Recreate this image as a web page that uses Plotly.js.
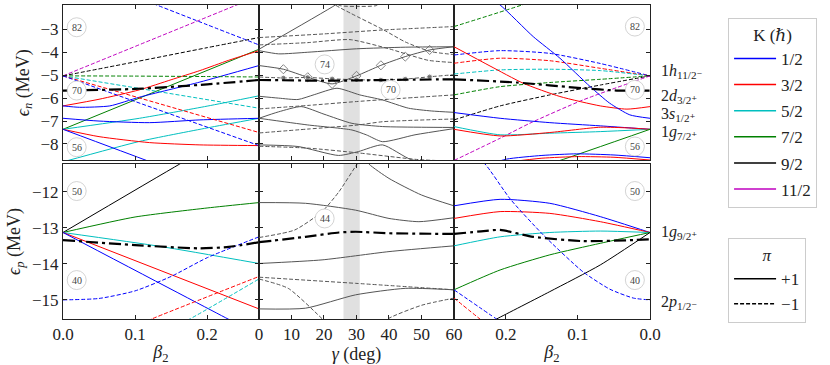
<!DOCTYPE html>
<html lang="en">
<head>
<meta charset="UTF-8">
<title>Nilsson diagram</title>
<script src="https://cdn.plot.ly/plotly-3.0.1.min.js"></script>
<style>
  body { margin: 0; background: #fff; }
  #plot { width: 830px; height: 365px; }
</style>
</head>
<body>
<div id="plot"></div>
<script>
// ---- neutrons, gamma = 0 (prolate side), points are [beta2, e_n] ----
const nP_11m = [[0, -5.03], [0.241, -1.94], [0.273, -1.53]];
const nP_9m = [[0, -5.03], [0.1, -4.42], [0.2, -3.8], [0.272, -3.36]];
const nP_1m_hi = [[0.11, -1.7], [0.13, -1.94], [0.2, -2.8], [0.272, -3.68]];
const nP_7p = [[0, -7.36], [0.272, -3.87]];
const nP_3p_d = [[0, -6.34], [0.05, -6.05], [0.106, -5.64], [0.15, -5.2], [0.19, -4.8], [0.23, -4.35], [0.272, -3.93]];
const nP_1p_d = [[0, -6.34], [0.023, -6.4], [0.065, -6.34], [0.106, -5.96], [0.19, -5.3], [0.272, -4.58]];
const nP_7m = [[0, -5.03], [0.1, -5.04], [0.2, -5.06], [0.272, -5.08]];
const nP_5m = [[0, -5.03], [0.272, -6.44]];
const nP_5p_g = [[0, -7.36], [0.106, -6.88], [0.2, -6.35], [0.272, -5.9]];
const nP_5p_lo = [[0, -8.78], [0.106, -7.89], [0.2, -7.3], [0.272, -6.88]];
const nP_1p_s = [[0, -6.88], [0.05, -7.0], [0.12, -7.07], [0.19, -6.95], [0.272, -6.88]];
const nP_3m = [[0, -5.03], [0.272, -7.5]];
const nP_3p_g = [[0, -7.36], [0.05, -7.68], [0.12, -7.94], [0.19, -8.04], [0.272, -8.07]];
const nP_1m = [[0, -5.03], [0.272, -8.07]];
const nP_1p_g = [[0, -7.36], [0.116, -8.72], [0.14, -9.0]];
const nP_fermi = [[0, -5.67], [0.1, -5.6], [0.2, -5.4], [0.272, -5.21]];

// ---- neutrons, triaxial path, points are [gamma, e_n] ----
const nG_a = [[0, -3.87], [23.5, -1.94], [28, -1.5]];
const nG_b = [[0, -3.93], [6, -4.07], [15, -4.0], [30, -3.85], [45, -3.78], [60, -3.76]];
const nG_diam = [[0, -4.58], [7.5, -4.74], [15, -5.09], [22.5, -5.38], [30, -5.03], [37.5, -4.57], [45, -4.19], [52.5, -3.9], [60, -3.76]];
const nG_dots = [[0, -5.08], [7.5, -5.12], [15, -5.1], [22.5, -5.16], [30, -5.2], [37.5, -5.21], [45, -5.17], [52.5, -5.07], [60, -4.98]];
const nG_c = [[0, -5.92], [6, -6.0], [12, -6.06], [17, -5.85], [24, -5.57], [31, -5.86], [38, -6.08], [46, -6.44], [53, -6.56], [60, -6.62]];
const nG_d = [[0, -6.47], [15, -6.32], [30, -6.15], [45, -6.0], [60, -5.86]];
const nG_e = [[0, -6.88], [6, -6.6], [13, -6.37], [20, -6.7], [28.6, -7.1], [38, -7.24], [50, -7.27], [60, -7.28]];
const nG_f = [[0, -6.88], [15, -7.17], [28.6, -7.39], [33, -7.6], [38, -7.9], [48, -7.6], [60, -7.33]];
const nG_g = [[0, -7.52], [15, -7.35], [30.6, -7.17], [38, -7.03], [60, -6.91]];
const nG_h = [[0, -8.04], [12, -8.11], [24.5, -8.5], [30.6, -8.33], [38, -8.04], [47, -8.69], [60, -8.8]];
const nG_i = [[0, -8.1], [15, -8.18], [30.6, -8.39], [49, -8.68], [60, -8.75]];
const nG_j = [[0, -3.36], [20, -3.2], [38, -3.03], [60, -2.88]];
const nG_k = [[0, -3.68], [15, -3.58], [28, -3.45], [40, -3.85], [52, -4.35], [60, -4.45]];
const nG_l = [[21, -1.6], [23.5, -1.94], [28.2, -2.3], [38.4, -3.03], [45, -3.55], [52.8, -3.97], [60, -4.1]];
const nG_m = [[21, -1.7], [25, -1.97], [30, -2.0], [36, -1.97], [40, -1.7]];
const nG_fermi = [[0, -5.21], [20, -5.24], [30, -5.23], [45, -5.2], [60, -5.18]];

// ---- neutrons, gamma = 60 (oblate side), points are [beta2, e_n] ----
const nO_7m_hi = [[0.272, -2.88], [0.178, -1.94], [0.15, -1.6]];
const nO_1m = [[0.272, -4.12], [0.208, -3.93], [0.139, -4.05], [0.069, -4.49], [0, -5.03]];
const nO_3m = [[0.272, -4.48], [0.208, -4.26], [0.139, -4.37], [0.069, -4.7], [0, -5.03]];
const nO_5m = [[0.272, -4.95], [0.208, -4.77], [0.139, -4.74], [0.069, -4.8], [0, -5.03]];
const nO_7m = [[0.272, -5.86], [0.208, -5.5], [0.139, -5.32], [0.069, -5.18], [0, -5.03]];
const nO_9m = [[0.272, -6.95], [0.208, -6.34], [0.139, -5.86], [0.069, -5.43], [0, -5.03]];
const nO_11m = [[0.272, -8.72], [0.208, -7.75], [0.167, -7.1], [0.093, -6.08], [0, -5.03]];
const nO_3p_d = [[0.272, -3.76], [0.222, -4.6], [0.176, -5.35], [0.125, -5.93], [0.069, -6.34], [0.032, -6.48], [0, -6.37]];
const nO_1p_hi = [[0.23, -1.5], [0.208, -1.94], [0.162, -3.32], [0.125, -4.26], [0.083, -5.5], [0.056, -6.22], [0.028, -6.73], [0, -6.88]];
const nO_1p = [[0.272, -6.63], [0.208, -6.88], [0.139, -7.07], [0.069, -7.21], [0, -7.36]];
const nO_5p = [[0.272, -7.24], [0.208, -7.6], [0.139, -7.53], [0.069, -7.46], [0, -7.36]];
const nO_3p = [[0.272, -7.36], [0.208, -7.65], [0.139, -7.5], [0.069, -7.27], [0.03, -7.3], [0, -7.36]];
const nO_7p = [[0.15, -8.96], [0.125, -8.72], [0, -7.36]];
const nO_1p_lo = [[0.23, -8.95], [0.199, -8.66], [0.15, -8.5], [0.102, -8.43], [0.05, -8.48], [0, -8.6]];
const nO_3p_lo = [[0.2, -8.8], [0.15, -8.62], [0.1, -8.55], [0.05, -8.58], [0, -8.7]];
const nO_fermi = [[0.272, -5.18], [0.185, -5.32], [0.093, -5.57], [0.046, -5.67], [0, -5.67]];

// ---- protons, gamma = 0, points are [beta2, e_p] ----
const pP_9p = [[0, -13.13], [0.162, -11.23], [0.2, -10.8]];
const pP_7p = [[0, -13.13], [0.1, -12.7], [0.2, -12.45], [0.272, -12.3]];
const pP_5p = [[0, -13.13], [0.136, -13.52], [0.272, -13.99]];
const pP_3p = [[0, -13.13], [0.272, -15.25]];
const pP_1p = [[0, -13.13], [0.229, -15.53], [0.26, -15.85]];
const pP_1m = [[0, -15.0], [0.05, -14.96], [0.1, -14.75], [0.15, -14.35], [0.2, -13.83], [0.272, -13.25]];
const pP_3m = [[0.11, -15.65], [0.123, -15.53], [0.272, -14.35]];
const pP_5m = [[0.165, -15.63], [0.176, -15.53], [0.272, -14.42]];
const pP_fermi = [[0, -13.34], [0.1, -13.48], [0.19, -13.57], [0.23, -13.53], [0.272, -13.4]];

// ---- protons, triaxial path, points are [gamma, e_p] ----
const pG_a = [[0, -12.3], [14.3, -12.32], [29.7, -12.51], [40, -12.74], [49.2, -12.83], [60, -12.72]];
const pG_b = [[0, -13.27], [11, -13.06], [19.4, -12.55], [24.6, -12.0], [30.2, -11.23], [33, -10.9]];
const pG_c = [[31, -10.9], [33.8, -11.23], [40, -11.63], [50, -12.09], [60, -12.39]];
const pG_d = [[0, -13.99], [19.4, -13.89], [40, -13.66], [60, -13.5]];
const pG_e = [[0, -14.37], [29.7, -14.54], [60, -14.72]];
const pG_f = [[0, -15.25], [14.3, -15.23], [29.7, -14.86], [45, -14.68], [60, -14.72]];
const pG_g = [[0, -14.42], [9, -14.68], [19.5, -15.53], [22, -15.75]];
const pG_h = [[37, -15.75], [40, -15.51], [50, -15.15], [60, -14.95]];
const pG_fermi = [[0, -13.4], [14.3, -13.25], [24.6, -13.13], [29.7, -13.11], [40, -13.15], [60, -13.17]];

// ---- protons, gamma = 60, points are [beta2, e_p] ----
const pO_1p = [[0.272, -12.39], [0.208, -12.21], [0.139, -12.32], [0.069, -12.69], [0, -13.13]];
const pO_3p = [[0.272, -12.74], [0.208, -12.55], [0.139, -12.6], [0.069, -12.83], [0, -13.13]];
const pO_5p = [[0.272, -13.5], [0.208, -13.25], [0.139, -13.13], [0.069, -13.09], [0, -13.13]];
const pO_7p = [[0.272, -14.72], [0.208, -14.17], [0.139, -13.75], [0.069, -13.43], [0, -13.13]];
const pO_9p = [[0.23, -15.7], [0.213, -15.53], [0.139, -14.77], [0.069, -14.03], [0, -13.13]];
const pO_1m = [[0.245, -11.0], [0.229, -11.23], [0.194, -12.2], [0.148, -13.2], [0.093, -14.22], [0.056, -14.7], [0.023, -14.95], [0, -15.0]];
const pO_1m_b = [[0.272, -14.72], [0.213, -15.53], [0.2, -15.7]];
const pO_3m = [[0.272, -14.95], [0.236, -15.53], [0.225, -15.7]];
const pO_fermi = [[0.272, -13.17], [0.231, -13.09], [0.208, -13.06], [0.162, -13.25], [0.093, -13.37], [0.023, -13.34], [0, -13.32]];

// which curve belongs to which K and parity (first number = subplot)
const axialCurves = [
    [1, nP_11m, '11/2', -1], [1, nP_9m, '9/2', -1], [1, nP_1m_hi, '1/2', -1], [1, nP_7p, '7/2', 1],
    [1, nP_3p_d, '3/2', 1], [1, nP_1p_d, '1/2', 1], [1, nP_7m, '7/2', -1], [1, nP_5m, '5/2', -1],
    [1, nP_5p_g, '5/2', 1], [1, nP_5p_lo, '5/2', 1], [1, nP_1p_s, '1/2', 1], [1, nP_3m, '3/2', -1],
    [1, nP_3p_g, '3/2', 1], [1, nP_1m, '1/2', -1], [1, nP_1p_g, '1/2', 1],
    [3, nO_7m_hi, '7/2', -1], [3, nO_1m, '1/2', -1], [3, nO_3m, '3/2', -1], [3, nO_5m, '5/2', -1],
    [3, nO_7m, '7/2', -1], [3, nO_9m, '9/2', -1], [3, nO_11m, '11/2', -1], [3, nO_3p_d, '3/2', 1],
    [3, nO_1p_hi, '1/2', 1], [3, nO_1p, '1/2', 1], [3, nO_5p, '5/2', 1], [3, nO_3p, '3/2', 1],
    [3, nO_7p, '7/2', 1], [3, nO_1p_lo, '1/2', 1], [3, nO_3p_lo, '3/2', 1],
    [4, pP_9p, '9/2', 1], [4, pP_7p, '7/2', 1], [4, pP_5p, '5/2', 1], [4, pP_3p, '3/2', 1],
    [4, pP_1p, '1/2', 1], [4, pP_1m, '1/2', -1], [4, pP_3m, '3/2', -1], [4, pP_5m, '5/2', -1],
    [6, pO_1p, '1/2', 1], [6, pO_3p, '3/2', 1], [6, pO_5p, '5/2', 1], [6, pO_7p, '7/2', 1],
    [6, pO_9p, '9/2', 1], [6, pO_1m, '1/2', -1], [6, pO_1m_b, '1/2', -1], [6, pO_3m, '3/2', -1]
];

const gammaCurves = [
    [2, nG_a, 1], [2, nG_b, 1], [2, nG_c, 1], [2, nG_d, -1], [2, nG_e, 1], [2, nG_f, 1],
    [2, nG_g, -1], [2, nG_h, 1], [2, nG_i, -1], [2, nG_j, -1], [2, nG_k, -1], [2, nG_l, -1], [2, nG_m, -1],
    [5, pG_a, 1], [5, pG_b, -1], [5, pG_c, 1], [5, pG_d, 1], [5, pG_e, -1], [5, pG_f, 1],
    [5, pG_g, -1], [5, pG_h, -1]
];

const fermiCurves = [[1, nP_fermi], [2, nG_fermi], [3, nO_fermi], [4, pP_fermi], [5, pG_fermi], [6, pO_fermi]];

const kLabels = ['1/2', '3/2', '5/2', '7/2', '9/2', '11/2'];
const kColors = ['#0000ff', '#ff0000', '#00bfbf', '#008000', '#000000', '#bf00bf'];

const FONT = '"Liberation Serif", "DejaVu Serif", serif';
const DASH = '4px,2px';
const GREY = '#555555';

function ax(n) { return n === 1 ? '' : String(n); }

function curve(n, pts, color, parity, extra) {
    return Object.assign({
        x: pts.map(p => p[0]),
        y: pts.map(p => p[1]),
        xaxis: 'x' + ax(n), yaxis: 'y' + ax(n),
        mode: 'lines',
        line: { color: color, width: 1, dash: parity < 0 ? DASH : 'solid', shape: 'spline', smoothing: 0.6 },
        hoverinfo: 'skip', showlegend: false
    }, extra || {});
}

const traces = [];
gammaCurves.forEach(c => traces.push(curve(c[0], c[1], GREY, c[2])));

// the two marked sequences in the neutron gamma panel
const inner = pts => pts.map((p, i) => (i === 0 || i === pts.length - 1) ? 0 : 7);
traces.push(curve(2, nG_diam, GREY, 1, {
    mode: 'lines+markers',
    marker: { symbol: 'diamond-open', size: inner(nG_diam), color: GREY, line: { width: 1, color: GREY } }
}));
traces.push(curve(2, nG_dots, GREY, -1, {
    mode: 'lines+markers',
    marker: { symbol: 'circle', size: inner(nG_dots).map(s => s ? 5.5 : 0), color: GREY }
}));

axialCurves.forEach(c => traces.push(curve(c[0], c[1], kColors[kLabels.indexOf(c[2])], c[3])));

fermiCurves.forEach(c => {
    const t = curve(c[0], c[1], '#000000', 1);
    t.line.width = 2.2;
    t.line.dash = '12px,4px,3px,4px';
    traces.push(t);
});

// legend entries
kLabels.forEach((k, i) => traces.push({
    x: [null], y: [null], mode: 'lines', name: k, legend: 'legend', legendgroup: 'k' + i,
    line: { color: kColors[i], width: 1.5 }
}));
traces.push({ x: [null], y: [null], mode: 'lines', name: '+1', legend: 'legend2', legendgroup: 'p1',
    line: { color: '#000', width: 1.5 } });
traces.push({ x: [null], y: [null], mode: 'lines', name: '\u22121', legend: 'legend2', legendgroup: 'p2',
    line: { color: '#000', width: 1.5, dash: DASH } });

// axes
const xDom = [[0, 0.3339], [0.3339, 0.6661], [0.6661, 1]];
const yTop = [0.5048, 1], yBot = [0, 0.4936];
const baseAxis = {
    showline: true, linecolor: '#222', linewidth: 1, mirror: 'allticks',
    ticks: 'inside', ticklen: 4, tickcolor: '#222', showgrid: false, zeroline: false,
    tickfont: { family: FONT, size: 17, color: '#222' }
};
const layout = {
    width: 830, height: 365,
    margin: { l: 63, r: 180, t: 5, b: 46 },
    paper_bgcolor: '#fff', plot_bgcolor: '#fff',
    font: { family: FONT, color: '#222' },
    shapes: [], annotations: []
};

for (let n = 1; n <= 6; n++) {
    const col = (n - 1) % 3, top = n <= 3;
    const xa = Object.assign({}, baseAxis, { domain: xDom[col], anchor: 'y' + ax(n) });
    const ya = Object.assign({}, baseAxis, { domain: top ? yTop : yBot, anchor: 'x' + ax(n) });
    if (col === 1) {
        xa.range = [0, 60]; xa.tickvals = [0, 10, 20, 30, 40, 50, 60];
    } else {
        xa.range = col === 0 ? [0, 0.272] : [0.272, 0];
        xa.tickvals = [0, 0.1, 0.2]; xa.tickformat = '.1f';
    }
    xa.showticklabels = !top;
    if (top) {
        ya.range = [-8.72, -1.94]; ya.tickvals = [-3, -4, -5, -6, -7, -8];
    } else {
        ya.range = [-15.53, -11.23]; ya.tickvals = [-12, -13, -14, -15];
    }
    ya.showticklabels = col === 0;
    if (!top) {
        xa.title = { text: col === 1 ? '<i>γ</i> (deg)' : '<i>β</i><sub>2</sub>', font: { family: FONT, size: 18 }, standoff: 3 };
    }
    if (col === 0) {
        ya.title = { text: top ? '<i>ϵ<sub>n</sub></i> (MeV)' : '<i>ϵ<sub>p</sub></i> (MeV)', font: { family: FONT, size: 18 }, standoff: 6 };
    }
    layout['xaxis' + ax(n)] = xa;
    layout['yaxis' + ax(n)] = ya;
}

// grey band in the gamma panels
[2, 5].forEach(n => layout.shapes.push({
    type: 'rect', xref: 'x' + n, yref: 'y' + n + ' domain', x0: 26, x1: 31, y0: 0, y1: 1,
    fillcolor: '#e0e0e0', line: { width: 0 }, layer: 'below'
}));

// circled shell gaps
[[1, 0.019, -2.91, '82'], [1, 0.019, -5.67, '70'], [1, 0.019, -8.14, '56'],
 [2, 20.2, -4.53, '74'], [2, 40.5, -5.64, '70'],
 [3, 0.021, -2.88, '82'], [3, 0.021, -5.64, '70'], [3, 0.021, -8.11, '56'],
 [4, 0.019, -11.98, '50'], [4, 0.019, -14.45, '40'],
 [5, 20.2, -12.74, '44'],
 [6, 0.021, -11.98, '50'], [6, 0.021, -14.45, '40']].forEach(m => {
    const xr = 'x' + ax(m[0]), yr = 'y' + ax(m[0]);
    layout.shapes.push({
        type: 'circle', xref: xr, yref: yr, xsizemode: 'pixel', ysizemode: 'pixel',
        xanchor: m[1], yanchor: m[2], x0: -9.5, x1: 9.5, y0: -9.5, y1: 9.5,
        fillcolor: '#fff', line: { color: '#c8c8c8', width: 0.8 }, layer: 'above'
    });
    layout.annotations.push({
        xref: xr, yref: yr, x: m[1], y: m[2], text: m[3], showarrow: false,
        font: { family: FONT, size: 10, color: '#444' }
    });
});

// spherical orbitals on the right
[['1<i>h</i><sub>11/2⁻</sub>', 0.787], ['2<i>d</i><sub>3/2⁺</sub>', 0.710], ['3<i>s</i><sub>1/2⁺</sub>', 0.651],
 ['1<i>g</i><sub>7/2⁺</sub>', 0.595], ['1<i>g</i><sub>9/2⁺</sub>', 0.274], ['2<i>p</i><sub>1/2⁻</sub>', 0.054]].forEach(l => {
    layout.annotations.push({
        xref: 'paper', yref: 'paper', x: 1.015, y: l[1], xanchor: 'left', yanchor: 'middle',
        text: l[0], showarrow: false, font: { family: FONT, size: 16, color: '#222' }
    });
});

layout.legend = {
    x: 1.133, y: 0.959, xanchor: 'left', yanchor: 'top',
    bordercolor: '#cccccc', borderwidth: 1, bgcolor: '#fff', itemwidth: 42,
    font: { family: FONT, size: 17, color: '#222' }, tracegroupgap: 1,
    title: { text: 'K (<i>ℏ</i>)', side: 'top center', font: { family: FONT, size: 17 } }
};
layout.legend2 = {
    x: 1.133, y: 0.258, xanchor: 'left', yanchor: 'top',
    bordercolor: '#cccccc', borderwidth: 1, bgcolor: '#fff', itemwidth: 42,
    font: { family: FONT, size: 17, color: '#222' }, tracegroupgap: 0,
    title: { text: '<i>π</i>', side: 'top center', font: { family: FONT, size: 17 } }
};

Plotly.newPlot('plot', traces, layout, { displayModeBar: false, staticPlot: true });
</script>
</body>
</html>
